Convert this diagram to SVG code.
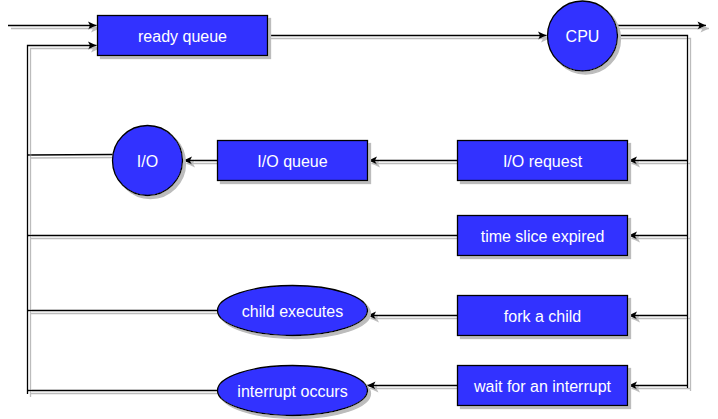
<svg xmlns="http://www.w3.org/2000/svg" width="718" height="419" viewBox="0 0 718 419">
<style>
.n{fill:#3333ff;stroke:#000;stroke-width:1.3}
.t{fill:#fff;font-family:"Liberation Sans",Arial,sans-serif;font-size:16px;text-anchor:middle}
.c{fill:none;stroke:#000;stroke-width:1.3}
</style>
<defs>
<filter id="sh" filterUnits="userSpaceOnUse" x="0" y="0" width="718" height="419">
<feOffset in="SourceAlpha" dx="2.5" dy="3" result="o"/>
<feFlood flood-color="#bcbcbc"/>
<feComposite in2="o" operator="in" result="s"/>
<feMerge><feMergeNode in="s"/><feMergeNode in="SourceGraphic"/></feMerge>
</filter>
<marker id="arr" viewBox="-9 -5 10 10" refX="0" refY="0" markerWidth="10" markerHeight="10" markerUnits="userSpaceOnUse" orient="auto">
<path d="M0,0 L-8.5,-4 L-6.5,0 L-8.5,4 Z" fill="#000"/>
</marker>
</defs>
<g id="connectors" filter="url(#sh)">
<path class="c" d="M8,25.5 H96.5" marker-end="url(#arr)"/>
<path class="c" d="M267.5,35.5 H546.5" marker-end="url(#arr)"/>
<path class="c" d="M615.5,25.5 H706" marker-end="url(#arr)"/>
<path class="c" d="M617.5,35.5 H687.5 V388"/>
<path class="c" d="M687.5,160.5 H628.5" marker-end="url(#arr)"/>
<path class="c" d="M687.5,235.5 H628.5" marker-end="url(#arr)"/>
<path class="c" d="M687.5,315.5 H628.5" marker-end="url(#arr)"/>
<path class="c" d="M687.5,385.5 H628.5" marker-end="url(#arr)"/>
<path class="c" d="M457.5,160.5 H368.5" marker-end="url(#arr)"/>
<path class="c" d="M217.5,160.5 H183.5" marker-end="url(#arr)"/>
<path class="c" d="M457.5,315.5 H367.5" marker-end="url(#arr)"/>
<path class="c" d="M457.5,385.5 H367" marker-end="url(#arr)"/>
<path class="c" d="M112.5,154.5 L27.5,155"/>
<path class="c" d="M457.5,235.5 H27.5"/>
<path class="c" d="M217.5,310.5 H27.5"/>
<path class="c" d="M217.5,390.5 H27.5"/>
<path class="c" d="M27.5,394 V45.5 H96.5" marker-end="url(#arr)"/>
</g>
<g id="ready-queue">
<rect class="n" x="97.5" y="15.5" width="170" height="40" filter="url(#sh)"/>
<text class="t" x="182.5" y="42">ready queue</text>
</g>
<g id="cpu">
<circle class="n" cx="582.5" cy="36" r="35" filter="url(#sh)"/>
<text class="t" x="582.5" y="42">CPU</text>
</g>
<g id="io-request">
<rect class="n" x="457.5" y="140.5" width="170" height="40" filter="url(#sh)"/>
<text class="t" x="542.5" y="167">I/O request</text>
</g>
<g id="io-queue">
<rect class="n" x="217.5" y="140.5" width="150" height="40" filter="url(#sh)"/>
<text class="t" x="292.5" y="167">I/O queue</text>
</g>
<g id="io">
<circle class="n" cx="147.5" cy="160.5" r="35" filter="url(#sh)"/>
<text class="t" x="147.5" y="167">I/O</text>
</g>
<g id="time-slice">
<rect class="n" x="457.5" y="215.5" width="170" height="40" filter="url(#sh)"/>
<text class="t" x="542.5" y="242">time slice expired</text>
</g>
<g id="fork">
<rect class="n" x="457.5" y="295.5" width="170" height="40" filter="url(#sh)"/>
<text class="t" x="542.5" y="322">fork a child</text>
</g>
<g id="child-executes">
<ellipse class="n" cx="292.5" cy="310.5" rx="75" ry="25" filter="url(#sh)"/>
<text class="t" x="292.5" y="317">child executes</text>
</g>
<g id="wait">
<rect class="n" x="457.5" y="365.5" width="170" height="40" filter="url(#sh)"/>
<text class="t" x="542.5" y="392">wait for an interrupt</text>
</g>
<g id="interrupt-occurs">
<ellipse class="n" cx="292.5" cy="390.5" rx="75" ry="25" filter="url(#sh)"/>
<text class="t" x="292.5" y="397">interrupt occurs</text>
</g>
</svg>
